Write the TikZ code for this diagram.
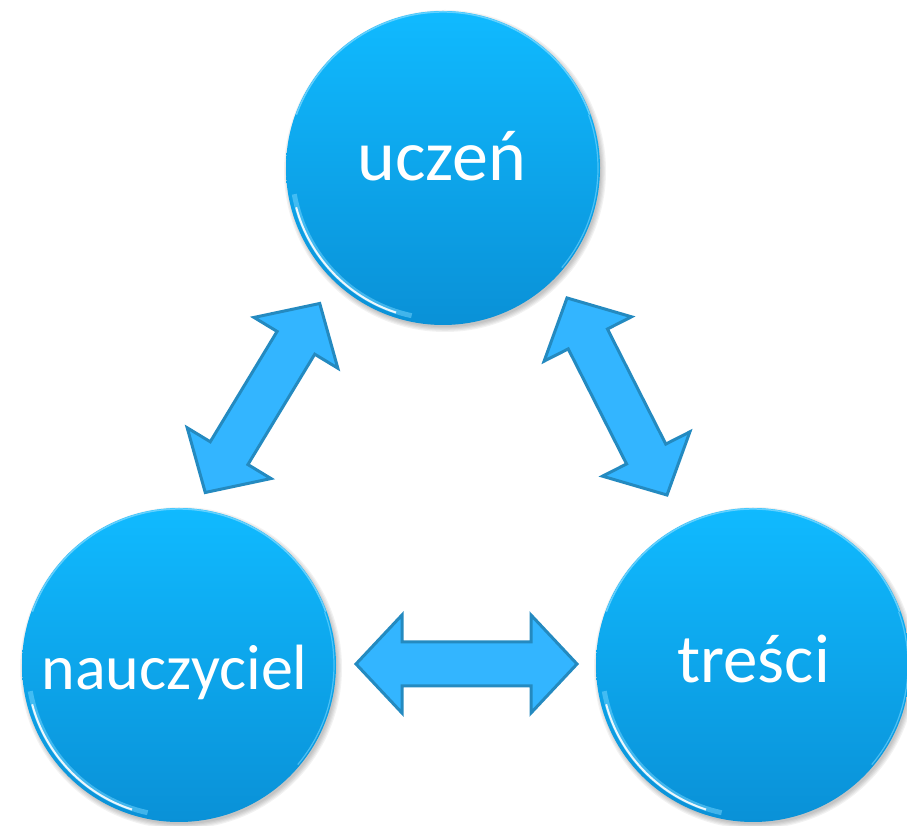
\documentclass[tikz,border=0pt]{standalone}
\usepackage{fontspec}
\setmainfont{Carlito}
\definecolor{ctop}{RGB}{16,186,255}
\definecolor{cbot}{RGB}{10,145,215}
\definecolor{afill}{RGB}{51,181,255}
\definecolor{adraw}{RGB}{36,138,192}
\definecolor{rim}{RGB}{120,215,255}
\tikzset{
  ball/.style={circle, minimum size=314pt, inner sep=0pt, top color=ctop, bottom color=cbot, draw=none},
  lbl/.style={text=white, anchor=base, inner sep=0pt},
  arrowbox/.style={fill=afill, draw=adraw, line width=3pt, line join=miter},
}
\newcommand\ballshadow[1]{%
  \foreach \k in {1,...,5}{\fill[black, opacity=0.05] ($(#1)+(2,-3)$) circle[radius=155+\k*1.2];}}
\newcommand\ballrim[1]{%
  \draw[rim, opacity=0.5, line width=5pt] ($(#1)+(190:151)$) arc[start angle=190, end angle=258, radius=151];
  \draw[white, opacity=0.9, line width=2pt] ($(#1)+(195:152)$) arc[start angle=195, end angle=252, radius=152];
  \draw[rim, opacity=0.8, line width=1.5pt] ($(#1)+(20:156)$) arc[start angle=20, end angle=160, radius=156];
  \draw[rim, opacity=0.6, line width=1.2pt] ($(#1)+(-40:155)$) arc[start angle=-40, end angle=20, radius=155];}
\newcommand\dblarrow[2]{%
  \begin{scope}[shift={#1}, rotate=#2]
    \draw[arrowbox] (-110.5,0) -- (-64.5,49) -- (-64.5,22) -- (64.5,22) -- (64.5,49) -- (110.5,0)
      -- (64.5,-49) -- (64.5,-22) -- (-64.5,-22) -- (-64.5,-49) -- cycle;
  \end{scope}}
\usetikzlibrary{calc}
\begin{document}
\begin{tikzpicture}[x=1pt, y=1pt]
\useasboundingbox (0,0) rectangle (907,826);
\clip (0,0) rectangle (907,826);
\coordinate (cU) at (443,658);
\coordinate (cN) at (179,161);
\coordinate (cT) at (753,161);
\ballshadow{cU}
\ballshadow{cN}
\ballshadow{cT}
\node[ball] (uczen) at (cU) {};
\node[ball] (nauczyciel) at (cN) {};
\node[ball] (tresci) at (cT) {};
\ballrim{cU}
\ballrim{cN}
\ballrim{cT}
\node[lbl, font=\fontsize{72}{80}\selectfont] (uczenT) at (442,645) {uczeń};
\node[lbl, font=\fontsize{64}{72}\selectfont] (nauczycielT) at (174.5,136) {nauczyciel};
\node[lbl, font=\fontsize{69}{76}\selectfont] (tresciT) at (753.5,143) {treści};
\dblarrow{(466.5,162)}{0}
\dblarrow{(262.5,428)}{58.8}
\dblarrow{(617,429.5)}{-63.1}
\end{tikzpicture}
\end{document}
